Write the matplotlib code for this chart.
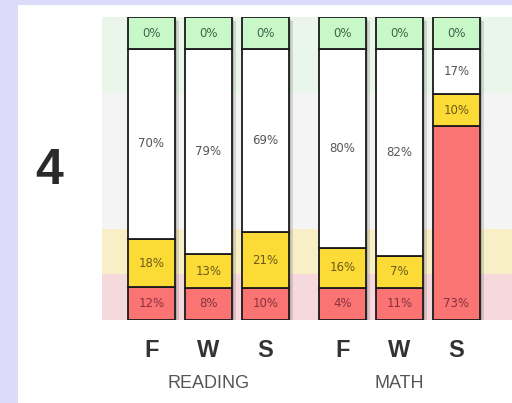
import matplotlib
matplotlib.use('Agg')
import matplotlib.pyplot as plt
import numpy as np

# Percent of students per level, one bar per season (F, W, S) and subject
subjects = ['READING', 'MATH']
seasons = ['F', 'W', 'S']
red = [12, 8, 10, 4, 11, 73]
yellow = [18, 13, 21, 16, 7, 10]
white = [70, 79, 69, 80, 82, 17]
green = [0, 0, 0, 0, 0, 0]
grade = '4'

# background band edges (fraction of bar height, bottom to top)
band_edges = [0, 0.152, 0.30, 0.75, 1.0]
band_colors = ['#f6d9dc', '#f8efc6', '#f4f4f4', '#eaf6ea']

seg_colors = ['#fb7474', '#fcdb37', '#ffffff', '#c8f7c8']
txt_colors = ['#8a3040', '#6b5a18', '#555555', '#3c6a48']

MIN_H = 0.106  # every segment is at least this tall


def stack_heights(vals):
    vals = np.array(vals, dtype=float)
    fixed = np.zeros(len(vals), bool)
    while True:
        free = ~fixed
        rest = 1 - fixed.sum() * MIN_H
        h = np.full(len(vals), MIN_H)
        h[free] = vals[free] / vals[free].sum() * rest
        small = free & (h < MIN_H)
        if not small.any():
            return h
        fixed |= small


fig = plt.figure(figsize=(5.12, 4.03), dpi=100)
fig.patch.set_facecolor('#dcdcfa')
# white panel
fig.patches.append(plt.Rectangle((18 / 512, 0), 1, 1 - 5 / 403, transform=fig.transFigure,
                                 facecolor='white', edgecolor='none', zorder=-10))

ax = fig.add_axes([102 / 512, (403 - 320) / 403, 410 / 512, 303 / 403])
ax.set_facecolor('none')
for s in ax.spines.values():
    s.set_visible(False)

for i in range(len(band_colors)):
    ax.axhspan(band_edges[i], band_edges[i + 1], color=band_colors[i], lw=0, zorder=0)

gap = 0.35
xs = []
for g in range(len(subjects)):
    for k in range(len(seasons)):
        xs.append(g * (len(seasons) + gap) + k)
xs = np.array(xs)
w = 0.825

for j, x in enumerate(xs):
    vals = [red[j], yellow[j], white[j], green[j]]
    hs = stack_heights(vals)
    # soft shadow
    ax.bar(x + 0.07, 1.0, width=w, bottom=-0.012, color='#000000', alpha=0.12, lw=0, zorder=1)
    ax.bar(x + 0.04, 1.0, width=w, bottom=-0.006, color='#000000', alpha=0.12, lw=0, zorder=1)
    bottom = 0
    for s in range(4):
        ax.bar(x, hs[s], width=w, bottom=bottom, color=seg_colors[s], edgecolor='#1a1a1a',
               lw=1.3, zorder=2)
        if s == 0:
            ty = bottom + MIN_H / 2
        else:
            ty = bottom + hs[s] / 2
        ax.text(x, ty, f'{vals[s]}%', ha='center', va='center', fontsize=8.5,
                color=txt_colors[s], family='DejaVu Sans', zorder=3)
        bottom += hs[s]

ax.set_xlim(xs[0] - 0.868, xs[0] + 6.325)
ax.set_ylim(0, 1)
ax.set_yticks([])
ax.set_xticks(xs)
ax.set_xticklabels(seasons * len(subjects), fontsize=17, fontweight='bold',
                   color='#333333', family='Liberation Sans')
ax.tick_params(axis='x', length=0, pad=14)

for g, name in enumerate(subjects):
    cx = xs[g * 3:(g + 1) * 3].mean()
    ax.text(cx, -0.224, name, transform=ax.get_xaxis_transform(), ha='center',
            va='baseline', fontsize=13, color='#555555', family='Liberation Sans')

fig.text(49 / 512, (403 - 184) / 403, grade, ha='center', va='baseline', fontsize=36,
         fontweight='bold', color='#2a2a2a', family='Liberation Sans')

fig.savefig('out.png', dpi=100, facecolor=fig.get_facecolor())
